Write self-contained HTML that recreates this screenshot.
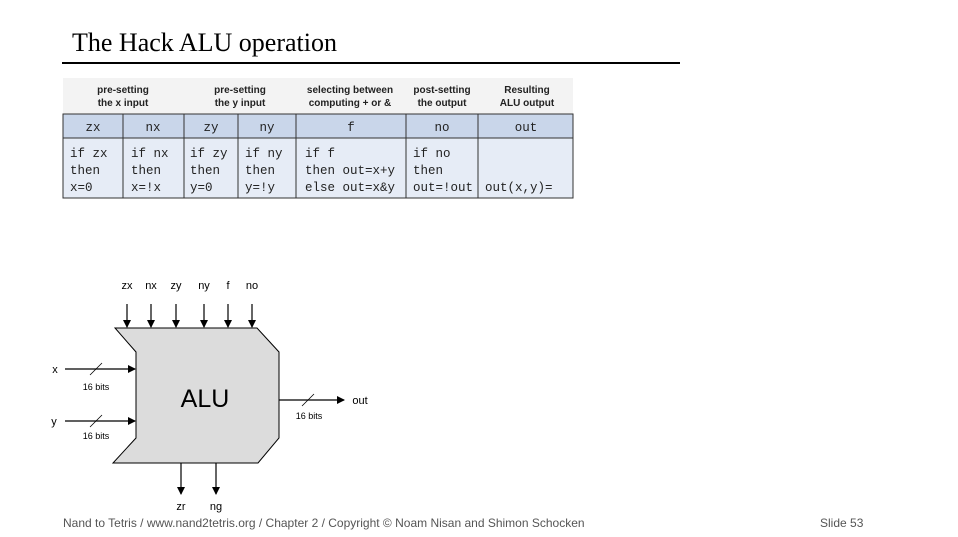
<!DOCTYPE html>
<html><head><meta charset="utf-8"><style>
body{margin:0;width:958px;height:537px;background:#fff;position:relative;overflow:hidden;font-family:"Liberation Sans",sans-serif}
.a{position:absolute}
</style></head><body>
<div class="a" style="left:72px;top:28px;font-family:'Liberation Serif',serif;font-size:26px;color:#000">The Hack ALU operation</div>
<div class="a" style="left:62px;top:62px;width:618px;height:1.5px;background:#000"></div>
<svg class="a" style="left:0;top:0" width="958" height="537">
<g>
<rect x="63" y="78" width="510" height="36" fill="#f3f3f3"/>
<rect x="63" y="114" width="510" height="24" fill="#c9d6ea" stroke="#333" stroke-width="1"/>
<rect x="63" y="138" width="510" height="60" fill="#e6ecf6" stroke="#333" stroke-width="1"/>
<g stroke="#333" stroke-width="1">
<line x1="123" y1="114" x2="123" y2="198"/><line x1="184" y1="114" x2="184" y2="198"/>
<line x1="238" y1="114" x2="238" y2="198"/><line x1="296" y1="114" x2="296" y2="198"/>
<line x1="406" y1="114" x2="406" y2="198"/><line x1="478" y1="114" x2="478" y2="198"/>
</g>
<g font-family="Liberation Sans,sans-serif" font-size="10" font-weight="bold" text-anchor="middle" fill="#222">
<text x="123" y="93">pre-setting</text><text x="123" y="106">the x input</text>
<text x="240" y="93">pre-setting</text><text x="240" y="106">the y input</text>
<text x="350" y="93">selecting between</text><text x="350" y="106">computing + or &amp;</text>
<text x="442" y="93">post-setting</text><text x="442" y="106">the output</text>
<text x="527" y="93">Resulting</text><text x="527" y="106">ALU output</text>
</g>
<g font-family="Liberation Mono,monospace" font-size="12.5" text-anchor="middle" fill="#222">
<text x="93" y="131">zx</text><text x="153" y="131">nx</text><text x="211" y="131">zy</text><text x="267" y="131">ny</text><text x="351" y="131">f</text><text x="442" y="131">no</text><text x="526" y="131">out</text>
</g>
<g font-family="Liberation Mono,monospace" font-size="12.5" fill="#222">
<text x="70" y="157">if zx</text><text x="70" y="174">then</text><text x="70" y="191">x=0</text>
<text x="131" y="157">if nx</text><text x="131" y="174">then</text><text x="131" y="191">x=!x</text>
<text x="190" y="157">if zy</text><text x="190" y="174">then</text><text x="190" y="191">y=0</text>
<text x="245" y="157">if ny</text><text x="245" y="174">then</text><text x="245" y="191">y=!y</text>
<text x="305" y="157">if f</text><text x="305" y="174">then out=x+y</text><text x="305" y="191">else out=x&amp;y</text>
<text x="413" y="157">if no</text><text x="413" y="174">then</text><text x="413" y="191">out=!out</text>
<text x="485" y="191">out(x,y)=</text>
</g>
</g>
<defs><marker id="ar" markerWidth="8" markerHeight="8" refX="7" refY="4" orient="auto" markerUnits="userSpaceOnUse"><path d="M0,0 L8,4 L0,8z" fill="#000"/></marker></defs>
<polygon points="115,328 257,328 279,352 279,438 258,463 113,463 136,438 136,352" fill="#dcdcdc" stroke="#000" stroke-width="1"/>
<text x="205" y="407" font-size="25" text-anchor="middle" font-family="Liberation Sans,sans-serif">ALU</text>
<g stroke="#000" stroke-width="1.2" marker-end="url(#ar)">
<line x1="127" y1="304" x2="127" y2="327"/><line x1="151" y1="304" x2="151" y2="327"/>
<line x1="176" y1="304" x2="176" y2="327"/><line x1="204" y1="304" x2="204" y2="327"/>
<line x1="228" y1="304" x2="228" y2="327"/><line x1="252" y1="304" x2="252" y2="327"/>
<line x1="65" y1="369" x2="135" y2="369"/><line x1="65" y1="421" x2="135" y2="421"/>
<line x1="279" y1="400" x2="344" y2="400"/>
<line x1="181" y1="463" x2="181" y2="494"/><line x1="216" y1="463" x2="216" y2="494"/>
</g>
<g stroke="#000" stroke-width="0.8">
<line x1="90" y1="375" x2="102" y2="363"/><line x1="90" y1="427" x2="102" y2="415"/><line x1="302" y1="406" x2="314" y2="394"/>
</g>
<g font-family="Liberation Sans,sans-serif" font-size="11" text-anchor="middle">
<text x="127" y="289">zx</text><text x="151" y="289">nx</text><text x="176" y="289">zy</text><text x="204" y="289">ny</text><text x="228" y="289">f</text><text x="252" y="289">no</text>
<text x="55" y="373">x</text><text x="54" y="425">y</text>
<text x="360" y="404">out</text>
<text x="181" y="510">zr</text><text x="216" y="510">ng</text>
</g>
<g font-family="Liberation Sans,sans-serif" font-size="9" text-anchor="middle">
<text x="96" y="390">16 bits</text><text x="96" y="439">16 bits</text><text x="309" y="419">16 bits</text>
</g>
</svg>
<div class="a" style="left:63px;top:516px;font-size:12px;color:#555">Nand to Tetris / www.nand2tetris.org / Chapter 2 / Copyright © Noam Nisan and Shimon Schocken</div>
<div class="a" style="left:820px;top:516px;font-size:12px;color:#555">Slide 53</div>
</body></html>
